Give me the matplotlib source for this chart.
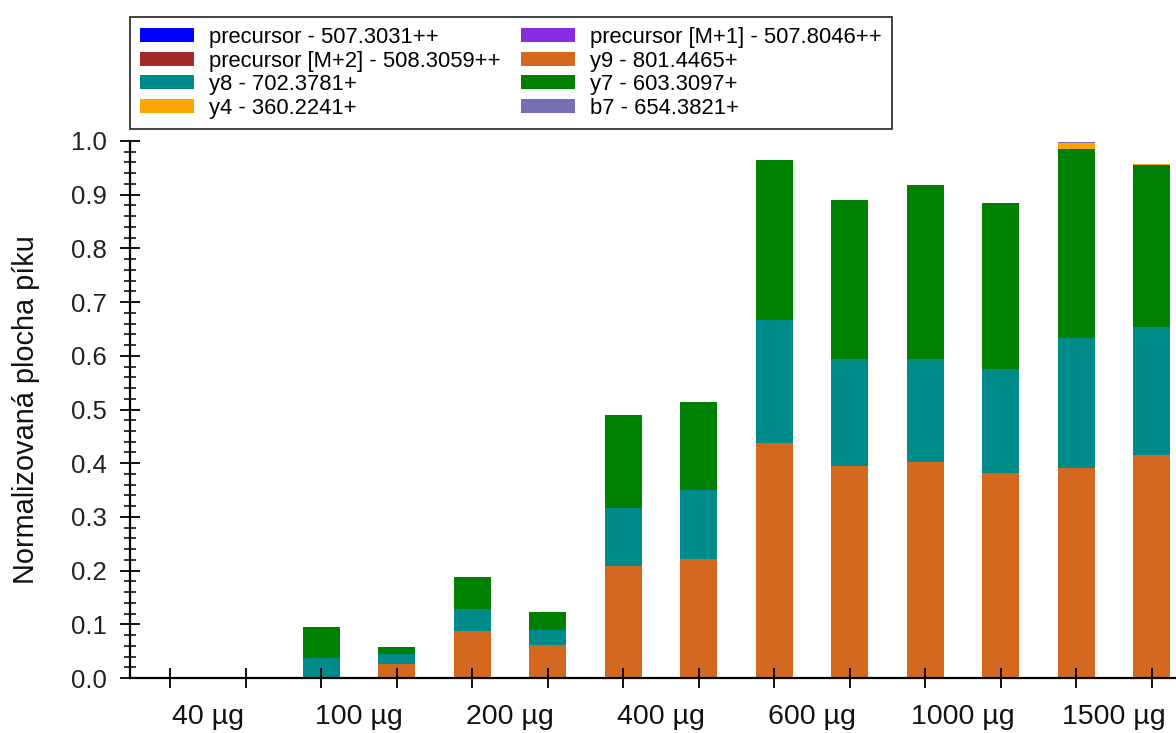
import matplotlib
matplotlib.use("Agg")
import matplotlib.pyplot as plt
import numpy as np

plt.rcParams['font.family'] = ['Liberation Sans', 'DejaVu Sans']

categories = ["40 µg", "100 µg", "200 µg", "400 µg", "600 µg", "1000 µg", "1500 µg"]
series_names = [
    "precursor - 507.3031++",
    "precursor [M+1] - 507.8046++",
    "precursor [M+2] - 508.3059++",
    "y9 - 801.4465+",
    "y8 - 702.3781+",
    "y7 - 603.3097+",
    "y4 - 360.2241+",
    "b7 - 654.3821+",
]
colors = ["#0000FF", "#8A2BE2", "#A52A2A", "#D2691E", "#008B8B", "#008000", "#FFA500", "#7570B4"]

# 14 replicate bars (2 per category)
precursor = [0.0] * 14
precursor_m1 = [0.0] * 14
precursor_m2 = [0.0] * 14
y9 = [0.0, 0.0, 0.0, 0.027, 0.088, 0.0614, 0.208, 0.2216, 0.4385, 0.3948, 0.4016, 0.381, 0.3917, 0.4153]
y8 = [0.0, 0.0, 0.037, 0.018, 0.041, 0.0274, 0.1086, 0.1291, 0.2275, 0.1998, 0.193, 0.1938, 0.2408, 0.2377]
y7 = [0.0, 0.0, 0.0587, 0.0134, 0.0585, 0.034, 0.1732, 0.1627, 0.2986, 0.2954, 0.3229, 0.3092, 0.3525, 0.3017]
y4 = [0.0] * 12 + [0.0106, 0.003]
b7 = [0.0] * 12 + [0.003, 0.0]

series = [precursor, precursor_m1, precursor_m2, y9, y8, y7, y4, b7]

fig = plt.figure(figsize=(11.76, 7.33), dpi=100)
ax = fig.add_axes([130/1176, 1 - 678/733, 1 - 130/1176, (678 - 141)/733])

x = np.arange(14)
bottom = np.zeros(14)
handles = []
for name, vals, c in zip(series_names, series, colors):
    v = np.array(vals)
    h = ax.bar(x, v, width=0.49, bottom=bottom, color=c, edgecolor='none',
               label=name)
    handles.append(h)
    bottom += v

ax.set_xlim(-0.53, 13.32)
ax.set_ylim(0, 1.0)

for s in ['top', 'right']:
    ax.spines[s].set_visible(False)
for s in ['left', 'bottom']:
    ax.spines[s].set_linewidth(1.6)
    ax.spines[s].set_color('black')

yt = np.arange(0, 1.01, 0.1)
ax.set_yticks(yt)
ax.set_yticklabels([f"{t:.1f}" for t in yt])
ax.set_yticks(np.arange(0, 1.001, 0.02), minor=True)
ax.tick_params(axis='y', which='major', direction='inout', length=14, width=1.3,
               labelsize=18.5, pad=9.5, colors='black', labelcolor='#222222')
ax.tick_params(axis='y', which='minor', direction='inout', length=9, width=1.1)

ax.set_xticks(x)
ax.set_xticklabels([''] * 14)
mids = [2 * i + 0.5 for i in range(len(categories))]
ax.set_xticks(mids, minor=True)
ax.set_xticklabels(categories, minor=True)
ax.tick_params(axis='x', which='major', direction='inout', length=14, width=1.3)
ax.tick_params(axis='x', which='minor', length=0, labelsize=20.5, pad=19, labelcolor='#111111')

ax.set_ylabel("Normalizovaná plocha píku", fontsize=20.8, color='#111111')
ax.yaxis.set_label_coords(-0.086, 0.5)

order = [0, 2, 4, 6, 1, 3, 5, 7]
leg = fig.legend([handles[i] for i in order], [series_names[i] for i in order],
                 ncol=2, loc='upper left', bbox_to_anchor=(130/1176, 1 - 17/733),
                 fontsize=15.8, frameon=True, fancybox=False, edgecolor='black',
                 handlelength=2.46, handleheight=0.6, handletextpad=0.68,
                 columnspacing=0.96, labelspacing=0.12, borderpad=0.45, borderaxespad=0)
leg.get_frame().set_linewidth(1.3)

fig.savefig("out.png", dpi=100)
